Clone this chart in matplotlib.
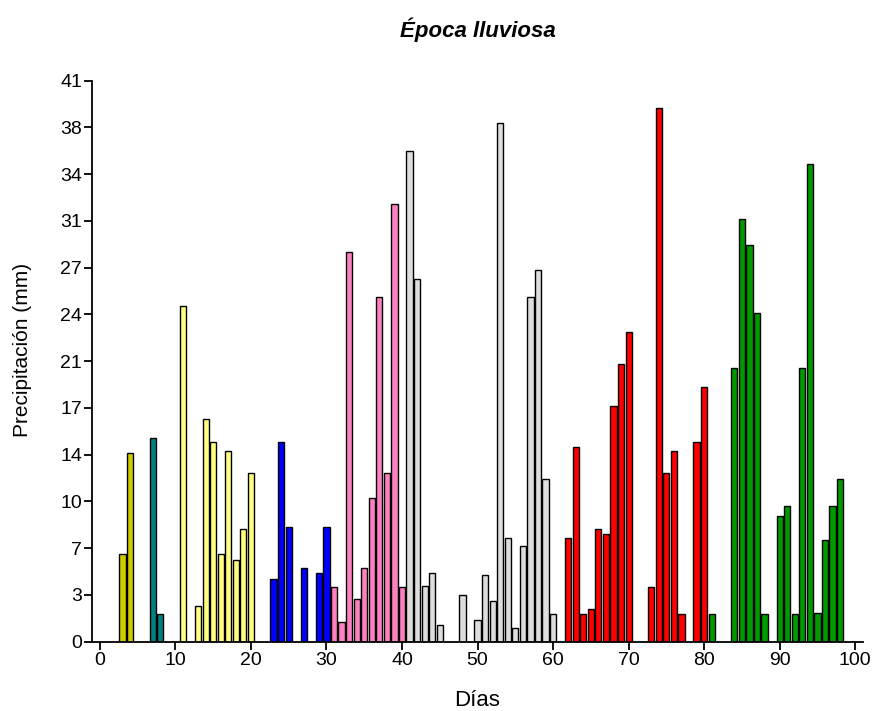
import matplotlib
matplotlib.use("Agg")
import matplotlib.pyplot as plt

plt.rcParams['font.family'] = ['Liberation Sans', 'DejaVu Sans']

# Data (day, precipitation mm) by group
olive_days = [3, 4]
olive_vals = [6.4, 13.8]
teal_days = [7, 8]
teal_vals = [14.9, 2.0]
yellow_days = [11, 13, 14, 15, 16, 17, 18, 19, 20]
yellow_vals = [24.5, 2.6, 16.3, 14.6, 6.4, 13.9, 6.0, 8.2, 12.3]
blue_days = [23, 24, 25, 27, 29, 30]
blue_vals = [4.6, 14.6, 8.4, 5.4, 5.0, 8.4]
pink_days = [31, 32, 33, 34, 35, 36, 37, 38, 39, 40]
pink_vals = [4.0, 1.45, 28.5, 3.1, 5.4, 10.5, 25.2, 12.3, 32.0, 4.0]
grey_days = [41, 42, 43, 44, 45, 48, 50, 51, 52, 53, 54, 55, 56, 57, 58, 59, 60]
grey_vals = [35.85, 26.5, 4.1, 5.0, 1.2, 3.4, 1.6, 4.85, 3.0, 37.9, 7.6, 1.0, 7.0, 25.2, 27.2, 11.9, 2.0]
red_days = [62, 63, 64, 65, 66, 67, 68, 69, 70, 73, 74, 75, 76, 77, 79, 80]
red_vals = [7.6, 14.2, 2.0, 2.4, 8.2, 7.9, 17.2, 20.3, 22.6, 4.0, 39.0, 12.3, 13.9, 2.0, 14.6, 18.6]
green_days = [81, 84, 85, 86, 87, 88, 90, 91, 92, 93, 94, 95, 96, 97, 98]
green_vals = [2.0, 20.0, 30.9, 29.0, 24.0, 2.0, 9.2, 9.9, 2.0, 20.0, 34.9, 2.1, 7.4, 9.9, 11.9]

groups = [
    (olive_days, olive_vals, '#CCCC00'),
    (teal_days, teal_vals, '#008080'),
    (yellow_days, yellow_vals, '#FFFF80'),
    (blue_days, blue_vals, '#0000FF'),
    (pink_days, pink_vals, '#FF80C0'),
    (grey_days, grey_vals, '#DDDDDD'),
    (red_days, red_vals, '#FF0000'),
    (green_days, green_vals, '#009900'),
]

y_tick_labels = ['0', '3', '7', '10', '14', '17', '21', '24', '27', '31', '34', '38', '41']
x_ticks = [0, 10, 20, 30, 40, 50, 60, 70, 80, 90, 100]

fig = plt.figure(figsize=(8.75, 7.11), dpi=100)
ax = fig.add_axes([0.1055, 0.0975, 0.8805, 0.789])

for days, vals, col in groups:
    ax.bar(days, vals, width=0.82, color=col, edgecolor='black', linewidth=1.0, zorder=2)

ax.set_xlim(-1, 101)
ax.set_ylim(0, 41)
ax.set_xticks(x_ticks)
ax.set_xticklabels([str(t) for t in x_ticks])
yt = [41 * i / 12 for i in range(13)]
ax.set_yticks(yt)
ax.set_yticklabels(y_tick_labels)

for s in ['top', 'right']:
    ax.spines[s].set_visible(False)
for s in ['left', 'bottom']:
    ax.spines[s].set_linewidth(1.3)

ax.tick_params(axis='both', direction='out', length=5.5, width=1.3, labelsize=14, pad=2)

ax.set_xlabel('Días', fontsize=16)
ax.xaxis.set_label_coords(0.5, -0.1146)
ax.xaxis.label.set_va('baseline')
ax.set_ylabel('Precipitación (mm)', fontsize=15)
ax.yaxis.set_label_coords(-0.0912, 0.52)
ax.yaxis.label.set_va('center')
ax.text(0.5, 1.0779, 'Época lluviosa', transform=ax.transAxes, ha='center', va='baseline',
        fontsize=16, fontweight='bold', fontstyle='italic')

fig.savefig('out.png', dpi=100)
